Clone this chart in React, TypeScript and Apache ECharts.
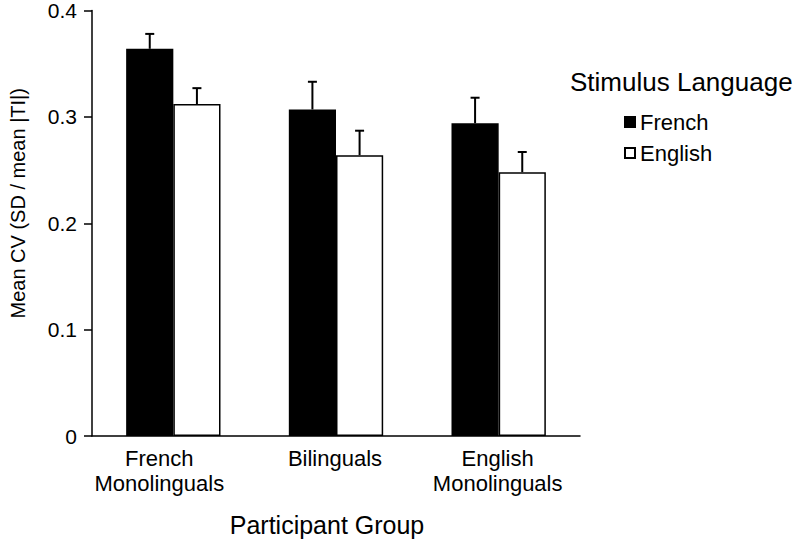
import React, { useEffect, useRef } from "react";
import * as echarts from "echarts";

const categories = ["French\nMonolinguals", "Bilinguals", "English\nMonolinguals"];
const seriesNames = ["French", "English"];
const frenchMeans = [0.364, 0.307, 0.294];
const frenchUpper = [0.378, 0.333, 0.318];
const englishMeans = [0.312, 0.264, 0.248];
const englishUpper = [0.327, 0.287, 0.267];
const yTicks = [0, 0.1, 0.2, 0.3, 0.4];

const FONT = "'Liberation Sans', Arial, Helvetica, sans-serif";

export default function App() {
  const ref = useRef<HTMLDivElement>(null);
  useEffect(() => {
    if (!ref.current) return;
    const chart = echarts.init(ref.current, null, { renderer: "svg" });
    const errData: number[][] = [];
    frenchUpper.forEach((u, i) => errData.push([i, frenchMeans[i], u, 0]));
    englishUpper.forEach((u, i) => errData.push([i, englishMeans[i], u, 1]));
    const labelShift = [28, 2, 2];
    const catData = categories.map((c, i) => ({
      value: c,
      textStyle: { padding: [0, labelShift[i], 0, 0] },
    }));
    const catGap = 0.42;
    chart.setOption({
      animation: false,
      textStyle: { fontFamily: FONT, color: "#000" },
      title: {
        text: "Stimulus Language",
        left: 565,
        top: 64,
        textStyle: { fontFamily: FONT, fontSize: 26, fontWeight: "normal", color: "#000" },
      },
      legend: {
        orient: "vertical",
        left: 619,
        top: 106,
        itemWidth: 10,
        itemHeight: 10,
        itemGap: 9,
        icon: "rect",
        data: seriesNames,
        textStyle: { fontFamily: FONT, fontSize: 22, color: "#000" },
      },
      grid: { left: 88, right: 213, top: 10, bottom: 106, containLabel: false },
      xAxis: {
        type: "category",
        data: catData,
        name: "Participant Group",
        nameLocation: "middle",
        nameGap: 76,
        nameTextStyle: { fontFamily: FONT, fontSize: 25, color: "#000", padding: [0, 18, 0, 0] },
        axisLine: { lineStyle: { color: "#000", width: 1.5 } },
        axisTick: { show: false },
        axisLabel: { interval: 0, fontFamily: FONT, fontSize: 22, lineHeight: 25, color: "#000", margin: 10 },
      },
      yAxis: {
        type: "value",
        min: yTicks[0],
        max: yTicks[yTicks.length - 1],
        interval: 0.1,
        name: "Mean CV (SD / mean |TI|)",
        nameLocation: "middle",
        nameGap: 64,
        nameTextStyle: { fontFamily: FONT, fontSize: 20, color: "#000", padding: [0, 0, 0, 40] },
        axisLine: { show: true, lineStyle: { color: "#000", width: 1.5 } },
        axisTick: { show: true, length: 8, lineStyle: { color: "#000", width: 1.5 } },
        splitLine: { show: false },
        axisLabel: {
          fontFamily: FONT,
          fontSize: 21,
          color: "#000",
          margin: 15,
          formatter: (v: number) => (v === 0 ? "0" : v.toFixed(1)),
        },
      },
      series: [
        {
          name: seriesNames[0],
          type: "bar",
          data: frenchMeans,
          barGap: "0%",
          barCategoryGap: "42%",
          itemStyle: { color: "#000", borderColor: "#000", borderWidth: 1.5 },
        },
        {
          name: seriesNames[1],
          type: "bar",
          data: englishMeans,
          barGap: "0%",
          barCategoryGap: "42%",
          itemStyle: { color: "#fff", borderColor: "#000", borderWidth: 1.5 },
        },
        {
          name: "err",
          type: "custom",
          data: errData,
          z: 10,
          renderItem: (params: any, api: any) => {
            const cat = api.value(0);
            const lo = api.value(1);
            const hi = api.value(2);
            const s = api.value(3);
            const band = api.size([1, 0])[0];
            const barW = (band * (1 - catGap)) / 2;
            const c = api.coord([cat, lo]);
            const h = api.coord([cat, hi]);
            const x = c[0] + (s === 0 ? -barW / 2 : barW / 2);
            const style = { stroke: "#000", lineWidth: 2 };
            return {
              type: "group",
              children: [
                { type: "line", shape: { x1: x, y1: c[1], x2: x, y2: h[1] }, style },
                { type: "line", shape: { x1: x - 4.5, y1: h[1], x2: x + 4.5, y2: h[1] }, style },
              ],
            };
          },
        },
      ],
    });
    return () => chart.dispose();
  }, []);
  return <div ref={ref} style={{ position: "fixed", left: 0, top: 0, width: 793, height: 542, background: "#fff" }} />;
}
